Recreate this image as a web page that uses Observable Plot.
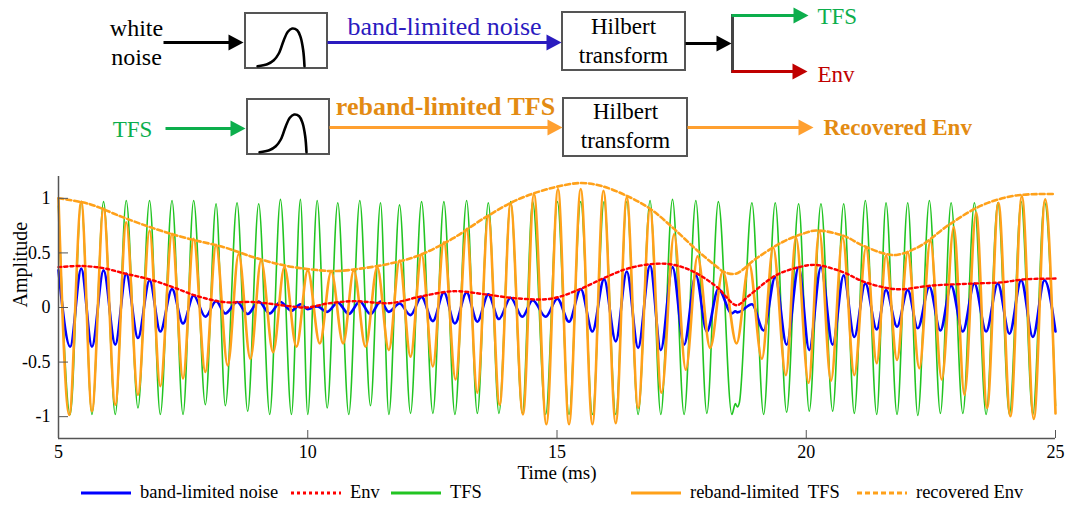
<!DOCTYPE html>
<html>
<head>
<meta charset="utf-8">
<script src="https://cdn.jsdelivr.net/npm/d3@7"></script>
<script src="https://cdn.jsdelivr.net/npm/@observablehq/plot@0.6"></script>
<style>
  html, body { margin: 0; padding: 0; background: #fff; overflow: hidden; }
  body { width: 1070px; height: 508px; font-family: "Liberation Serif", "Times New Roman", serif; }
  #legend { position: relative; width: 1070px; height: 26px; }
  #legend .item { position: absolute; top: 0px; display: flex; align-items: center; gap: 8px;
    font-family: "Liberation Serif", serif; font-size: 18.5px; white-space: pre; color: #000; }
  svg { display: block; }
</style>
</head>
<body>
<div id="diagram"></div>
<div id="chart"></div>
<div id="legend"></div>
<script>
// ================= DATA =================
// TFS (green): instants of its peaks / troughs (ms) and values there
const tfsTime = [5.0, 5.235, 5.456, 5.671, 5.904, 6.139, 6.359, 6.594, 6.827, 7.042,
  7.277, 7.498, 7.711, 7.946, 8.161, 8.347, 8.582, 8.795, 9.016, 9.237,
  9.452, 9.673, 9.853, 10.0, 10.189, 10.390, 10.602, 10.823, 11.044, 11.259,
  11.460, 11.627, 11.841, 12.062, 12.283, 12.510, 12.731, 12.952, 13.187, 13.402,
  13.622, 13.835, 14.070, 14.305, 14.512, 14.773, 15.008, 15.241, 15.476, 15.711,
  15.944, 16.179, 16.400, 16.627, 16.867, 17.082, 17.317, 17.550, 17.785, 18.006,
  18.237, 18.508, 18.578, 18.618, 18.659, 18.910, 19.145, 19.378, 19.606, 19.847,
  20.060, 20.295, 20.530, 20.751, 20.964, 21.185, 21.414, 21.600, 21.821, 22.036,
  22.237, 22.470, 22.691, 22.906, 23.141, 23.373, 23.608, 23.843, 24.076, 24.311,
  24.546, 24.779, 25.0];
const tfsValue = [0.93, -0.98, 0.97, -0.98, 0.97, -0.98, 0.98, -0.92, 0.98, -0.98,
  0.98, -0.98, 0.98, -0.89, 0.95, -0.90, 0.96, -0.95, 0.95, -0.98,
  0.99, -0.98, 0.99, -0.98, 0.98, -0.92, 0.96, -0.98, 0.98, -0.90,
  0.96, -0.98, 0.94, -0.97, 0.97, -0.97, 0.97, -0.98, 0.98, -0.97,
  0.96, -0.97, 0.97, -0.97, 0.97, -0.98, 0.97, -0.98, 0.97, -0.98,
  0.97, -0.98, 0.97, -0.98, 0.98, -0.98, 0.99, -0.98, 0.98, -0.97,
  0.97, -0.98, -0.88, -0.91, -0.87, 0.96, -0.98, 0.96, -0.96, 0.95,
  -0.95, 0.95, -0.95, 0.95, -0.97, 0.98, -0.98, 0.96, -0.98, 0.96,
  -0.99, 0.98, -0.97, 0.96, -0.97, 0.96, -0.98, 0.96, -0.98, 0.97,
  -0.98, 0.97, -0.90];
// band-limited noise (blue): values at the same instants as the TFS extrema
const noiseValue = [0.34, -0.36, 0.356, -0.36, 0.34, -0.34, 0.31, -0.28, 0.25, -0.22,
  0.17, -0.146, 0.11, -0.085, 0.058, -0.055, 0.05, -0.06, 0.055, -0.055,
  0.05, -0.03, 0.03, -0.015, 0.01, -0.04, 0.045, -0.06, 0.055, -0.06,
  0.055, -0.04, 0.036, -0.07, 0.097, -0.125, 0.137, -0.146, 0.137, -0.13,
  0.12, -0.106, 0.09, -0.085, 0.067, -0.085, 0.08, -0.13, 0.17, -0.22,
  0.26, -0.31, 0.33, -0.37, 0.386, -0.39, 0.37, -0.34, 0.295, -0.22,
  0.17, -0.055, -0.035, -0.045, -0.04, 0.03, -0.21, 0.28, -0.34, 0.37,
  -0.39, 0.37, -0.34, 0.295, -0.27, 0.22, -0.2, 0.16, -0.176, 0.16,
  -0.19, 0.19, -0.21, 0.2, -0.22, 0.22, -0.22, 0.22, -0.24, 0.25,
  -0.27, 0.25, -0.22];
// Env (red dashed)
const envTime = [5.0, 5.47, 5.904, 6.339, 6.807, 7.277, 7.745, 8.313, 8.916, 9.586,
  9.988, 10.390, 10.924, 11.661, 12.229, 12.765, 13.032, 13.568, 14.237, 14.873,
  15.410, 15.944, 16.414, 16.948, 17.349, 17.751, 18.253, 18.388, 18.602, 18.855,
  19.392, 19.859, 20.195, 20.731, 21.133, 21.600, 21.902, 22.504, 23.373, 23.910,
  24.378, 25.0];
const envValue = [0.37, 0.38, 0.36, 0.31, 0.26, 0.19, 0.11, 0.05, 0.05, 0.015,
  0.0, 0.036, 0.058, 0.04, 0.097, 0.143, 0.149, 0.12, 0.082, 0.08,
  0.158, 0.27, 0.356, 0.40, 0.39, 0.325, 0.17, 0.1, 0.02, 0.11,
  0.295, 0.37, 0.39, 0.325, 0.24, 0.18, 0.167, 0.2, 0.22, 0.23,
  0.258, 0.265];
// reband-limited TFS (orange): peaks / troughs
const rebandTime = [5.0, 5.215, 5.456, 5.671, 5.904, 6.139, 6.359, 6.594, 6.827, 7.042,
  7.277, 7.498, 7.711, 7.946, 8.161, 8.394, 8.614, 8.849, 9.064, 9.305,
  9.532, 9.773, 10.0, 10.241, 10.470, 10.711, 10.924, 11.159, 11.394, 11.627,
  11.841, 12.062, 12.283, 12.510, 12.731, 12.966, 13.187, 13.402, 13.622, 13.849,
  14.070, 14.317, 14.538, 14.787, 15.020, 15.241, 15.476, 15.711, 15.932, 16.179,
  16.400, 16.627, 16.867, 17.096, 17.349, 17.584, 17.819, 18.072, 18.327, 18.602,
  18.855, 19.110, 19.337, 19.592, 19.793, 20.048, 20.261, 20.496, 20.731, 20.964,
  21.199, 21.414, 21.600, 21.821, 22.036, 22.269, 22.490, 22.719, 22.960, 23.173,
  23.408, 23.628, 23.855, 24.096, 24.325, 24.566, 24.793, 25.0];
const rebandValue = [1.0, -0.985, 0.97, -0.95, 0.906, -0.89, 0.78, -0.80, 0.705, -0.72,
  0.675, -0.65, 0.63, -0.59, 0.574, -0.53, 0.49, -0.47, 0.43, -0.41,
  0.37, -0.36, 0.34, -0.33, 0.33, -0.33, 0.34, -0.36, 0.37, -0.39,
  0.43, -0.45, 0.49, -0.54, 0.60, -0.66, 0.72, -0.78, 0.84, -0.89,
  0.95, -0.98, 1.04, -1.07, 1.085, -1.07, 1.085, -1.07, 1.07, -1.06,
  1.01, -0.92, 0.90, -0.78, 0.67, -0.57, 0.47, -0.37, 0.33, -0.33,
  0.40, -0.47, 0.55, -0.62, 0.64, -0.69, 0.70, -0.67, 0.64, -0.62,
  0.55, -0.51, 0.475, -0.48, 0.505, -0.556, 0.61, -0.66, 0.736, -0.80,
  0.87, -0.92, 0.96, -0.996, 1.02, -1.02, 0.99, -0.97];
// recovered Env (orange dashed)
const recEnvTime = [5.0, 5.602, 6.273, 6.942, 7.610, 8.313, 8.916, 9.586, 10.255, 10.590,
  11.058, 11.627, 12.229, 12.900, 13.568, 14.237, 14.940, 15.476, 15.877, 16.414,
  16.882, 17.349, 17.819, 18.253, 18.353, 18.588, 18.990, 19.526, 19.928, 20.195,
  20.731, 21.133, 21.600, 21.835, 22.303, 22.839, 23.508, 24.177, 25.0];
const recEnvValue = [1.0, 0.95, 0.83, 0.72, 0.63, 0.553, 0.46, 0.38, 0.34, 0.334,
  0.356, 0.40, 0.477, 0.63, 0.827, 0.994, 1.10, 1.14, 1.115, 1.02,
  0.90, 0.72, 0.52, 0.356, 0.325, 0.31, 0.447, 0.6, 0.675, 0.705,
  0.66, 0.568, 0.49, 0.483, 0.568, 0.75, 0.933, 1.024, 1.04];

const xDomain = [5, 25];
const yDomain = [-1.2, 1.2];
const xTicks = [5, 10, 15, 20, 25];
const yTicks = [-1, -0.5, 0, 0.5, 1];
const xLabel = "Time (ms)";
const yLabel = "Amplitude";
const seriesNames = ["band-limited noise", "Env", "TFS", "reband-limited  TFS", "recovered Env"];

// ================= STYLE / LAYOUT =================
const seriesColors = ["#0000ff", "#ff0000", "#22c422", "#ffa11a", "#ffa11a"];
const seriesDash = [null, "3,3", null, null, "5,3"];
const legendLeft = [80, 290, 390, 630, 856];

const GREEN = "#0cae4c", RED = "#c00000", BLUE = "#2a1bbf", ORANGE = "#ffa030", ORANGE_TXT = "#e38b12";

// diagram layout (pixel space of the 1070x165 diagram strip)
const diagramBoxes = [
  {id: "f1", x1: 245, y1: 13, x2: 327, y2: 68, filter: true},
  {id: "h1", x1: 562, y1: 12, x2: 685, y2: 70, filter: false},
  {id: "f2", x1: 247, y1: 99, x2: 329, y2: 154, filter: true},
  {id: "h2", x1: 563, y1: 98, x2: 687, y2: 156, filter: false}
];
const filterShape = [[12, 52.7], [21.7, 50.7], [28.3, 46.7], [33.3, 40], [38.3, 26.7], [42.3, 18.3],
  [46.7, 15], [51.7, 16.7], [55, 23.3], [57.7, 36.7], [59, 52.7]];
const diagramLinks = [
  {x1: 163, y1: 42, x2: 243, y2: 42, color: "#000", head: true},
  {x1: 327, y1: 42, x2: 561, y2: 42, color: BLUE, head: true},
  {x1: 685, y1: 43, x2: 731, y2: 43, color: "#000", head: true},
  {x1: 732, y1: 13.5, x2: 732, y2: 72.5, color: "#444", head: false},
  {x1: 731, y1: 15, x2: 808, y2: 15, color: GREEN, head: true},
  {x1: 731, y1: 71, x2: 807, y2: 71, color: RED, head: true},
  {x1: 165, y1: 128, x2: 245, y2: 128, color: GREEN, head: true},
  {x1: 329, y1: 127, x2: 562, y2: 127, color: ORANGE, head: true},
  {x1: 687, y1: 127, x2: 813, y2: 127, color: ORANGE, head: true}
];
const diagramTexts = [
  {x: 136, y: 35, text: "white", color: "#000", anchor: "middle", size: 24, bold: false},
  {x: 136, y: 64, text: "noise", color: "#000", anchor: "middle", size: 24, bold: false},
  {x: 444, y: 34, text: "band-limited noise", color: BLUE, anchor: "middle", size: 26, bold: false},
  {x: 623, y: 33, text: "Hilbert", color: "#000", anchor: "middle", size: 23, bold: false},
  {x: 623, y: 62, text: "transform", color: "#000", anchor: "middle", size: 23, bold: false},
  {x: 817, y: 23, text: "TFS", color: GREEN, anchor: "start", size: 23, bold: false},
  {x: 817, y: 81, text: "Env", color: RED, anchor: "start", size: 23, bold: false},
  {x: 132, y: 136, text: "TFS", color: GREEN, anchor: "middle", size: 23, bold: false},
  {x: 625, y: 118, text: "Hilbert", color: "#000", anchor: "middle", size: 23, bold: false},
  {x: 625, y: 147, text: "transform", color: "#000", anchor: "middle", size: 23, bold: false},
  {x: 445, y: 114, text: "reband-limited TFS", color: ORANGE_TXT, anchor: "middle", size: 26, bold: true},
  {x: 823, y: 134, text: "Recovered Env", color: ORANGE_TXT, anchor: "start", size: 23, bold: true}
];

// ================= DIAGRAM =================
const arrowHead = {draw(ctx) { ctx.moveTo(0, 0); ctx.lineTo(-15, -8); ctx.lineTo(-15, 8); ctx.closePath(); }};
const filterPts = diagramBoxes.filter(b => b.filter)
  .flatMap(b => filterShape.map(([dx, dy]) => ({box: b.id, x: b.x1 + dx, y: b.y1 + dy})));
const linkBodies = diagramLinks.map(d => d.head ? {...d, x2: d.x2 - 8} : d);

const textMarks = [];
for (const anchor of ["middle", "start"]) {
  for (const bold of [false, true]) {
    const sel = diagramTexts.filter(d => d.anchor === anchor && d.bold === bold);
    if (!sel.length) continue;
    textMarks.push(Plot.text(sel, {x: "x", y: "y", text: "text", fill: "color", fontSize: "size",
      textAnchor: anchor, lineAnchor: "bottom", fontWeight: bold ? "bold" : "normal"}));
  }
}

const diagram = Plot.plot({
  width: 1070, height: 165, margin: 0,
  x: {domain: [0, 1070], range: [0, 1070], axis: null},
  y: {domain: [0, 165], range: [0, 165], axis: null},
  color: {type: "identity"},
  style: {fontFamily: "Liberation Serif, serif", background: "#fff"},
  marks: [
    Plot.rect(diagramBoxes, {x1: "x1", x2: "x2", y1: "y1", y2: "y2", fill: "#fff", stroke: "#555", strokeWidth: 2}),
    Plot.line(filterPts, {x: "x", y: "y", z: "box", curve: "catmull-rom", stroke: "#000", strokeWidth: 2.6}),
    Plot.link(linkBodies, {x1: "x1", y1: "y1", x2: "x2", y2: "y2", stroke: "color", strokeWidth: 3, strokeLinecap: "butt"}),
    Plot.dot(diagramLinks.filter(d => d.head), {x: "x2", y: "y2", symbol: arrowHead, fill: "color", stroke: "none", r: 5}),
    ...textMarks
  ]
});
document.getElementById("diagram").append(diagram);

// ================= CHART =================
const tfs = tfsTime.map((t, i) => ({t, v: tfsValue[i]}));
const noise = tfsTime.map((t, i) => ({t, v: noiseValue[i]}));
const env = envTime.map((t, i) => ({t, v: envValue[i]}));
const reband = rebandTime.map((t, i) => ({t, v: rebandValue[i]}));
const recEnv = recEnvTime.map((t, i) => ({t, v: recEnvValue[i]}));

const chart = Plot.plot({
  width: 1070, height: 317,
  marginLeft: 58, marginRight: 15, marginTop: 11, marginBottom: 44,
  x: {domain: xDomain},
  y: {domain: yDomain},
  style: {fontFamily: "Liberation Serif, serif", fontSize: "18px", color: "#000", background: "#fff", overflow: "visible"},
  marks: [
    Plot.line(tfs, {x: "t", y: "v", curve: "monotone-x", stroke: seriesColors[2], strokeWidth: 1.6}),
    Plot.line(noise, {x: "t", y: "v", curve: "monotone-x", stroke: seriesColors[0], strokeWidth: 2.6}),
    Plot.line(reband, {x: "t", y: "v", curve: "monotone-x", stroke: seriesColors[3], strokeWidth: 2.6}),
    Plot.line(env, {x: "t", y: "v", curve: "catmull-rom", stroke: seriesColors[1], strokeWidth: 2.4, strokeDasharray: seriesDash[1]}),
    Plot.line(recEnv, {x: "t", y: "v", curve: "catmull-rom", stroke: seriesColors[4], strokeWidth: 2.6, strokeDasharray: seriesDash[4]}),
    Plot.ruleX([xDomain[0]], {stroke: "#555", strokeWidth: 1.5}),
    Plot.ruleY([yDomain[0]], {stroke: "#555", strokeWidth: 1.5}),
    Plot.axisX({ticks: xTicks, tickSize: -8, tickPadding: 15, tickFormat: d => String(d), stroke: "#555", label: null, fontSize: 18}),
    Plot.axisY({ticks: yTicks, tickSize: -10, tickPadding: 18, tickFormat: d => String(d), stroke: "#555", label: null, fontSize: 18}),
    Plot.text([xLabel], {frameAnchor: "bottom", dy: 34, lineAnchor: "middle", text: d => d, fontSize: 19, fill: "#000"}),
    Plot.text([yLabel], {frameAnchor: "left", dx: -38, rotate: -90, lineAnchor: "middle", text: d => d, fontSize: 20, fill: "#000"})
  ]
});
document.getElementById("chart").append(chart);

// ================= LEGEND =================
const legend = d3.select("#legend");
seriesNames.forEach((name, i) => {
  const item = legend.append("div").attr("class", "item").style("left", legendLeft[i] + "px");
  const svg = item.append("svg").attr("width", 52).attr("height", 8);
  svg.append("line").attr("x1", 1).attr("x2", 51).attr("y1", 4).attr("y2", 4)
    .attr("stroke", seriesColors[i]).attr("stroke-width", 3)
    .attr("stroke-dasharray", seriesDash[i]);
  item.append("span").text(name);
});
</script>
</body>
</html>
